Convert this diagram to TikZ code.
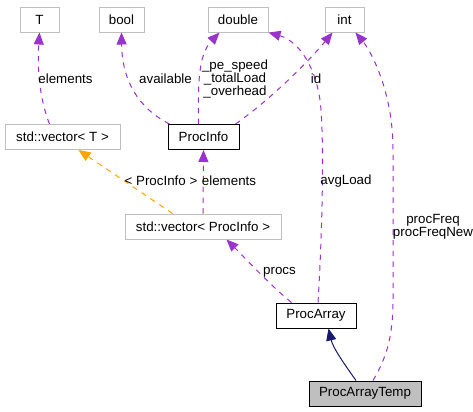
\documentclass[tikz,border=0pt]{standalone}
\usepackage{fontspec}
\setmainfont{Liberation Sans}
\usetikzlibrary{arrows.meta,calc}
\definecolor{DoxGray}{RGB}{191,191,191}
\definecolor{DoxPurple}{RGB}{154,50,205}
\definecolor{DoxOrange}{RGB}{255,165,0}
\definecolor{DoxNavy}{RGB}{25,25,112}
\tikzset{
  dox/box/.style={
    draw=black,
    line width=0.75pt,
    fill=white,
    align=center,
    text=black,
    minimum height=18.75pt,
    inner sep=0pt,
    font=\fontsize{10}{12}\selectfont
  },
  dox/extbox/.style={
    dox/box,
    draw=DoxGray
  },
  dox/current/.style={
    dox/box,
    fill=DoxGray
  },
  dox/member/.style={-{Triangle[length=9pt,width=7.5pt]}, line width=0.75pt, dash pattern=on 4pt off 4pt, draw=DoxPurple},
  dox/template/.style={-{Triangle[length=9pt,width=7.5pt]}, line width=0.75pt, dash pattern=on 4pt off 4pt, draw=DoxOrange},
  dox/inherit/.style={-{Triangle[length=9pt,width=7.5pt]}, line width=0.75pt, draw=DoxNavy},
  dox/label/.style={font=\fontsize{10}{10}\selectfont, text=black, align=center, inner sep=0pt}
}
\begin{document}
\begin{tikzpicture}[x=0.75pt,y=-0.75pt]
  \useasboundingbox[fill=white] (0,0) rectangle (473,411);
  \node[dox/extbox,minimum width=29.25pt] (t) at (39.5,19.5) {T};
  \node[dox/extbox,minimum width=33.75pt] (bool) at (121.5,19.5) {bool};
  \node[dox/extbox,minimum width=45pt] (double) at (238,19.5) {double};
  \node[dox/extbox,minimum width=29.25pt] (int) at (344.5,19.5) {int};
  \node[dox/extbox,minimum width=86.25pt] (vect) at (62.5,137) {std::vector< T >};
  \node[dox/box,minimum width=53.25pt] (procinfo) at (203.5,137) {ProcInfo};
  \node[dox/extbox,minimum width=117pt] (vecpi) at (203,226.5) {std::vector< ProcInfo >};
  \node[dox/box,minimum width=60pt] (procarray) at (316,315.5) {ProcArray};
  \node[dox/current,minimum width=84pt] (procarraytemp) at (365,393.5) {ProcArrayTemp};
  \draw[dox/member] ($(vect.north)+(-13,0)$) .. controls (40,100) and (37,70) .. (t.south);
  \draw[dox/member] ($(procinfo.north west)+(2,0)$) .. controls (138,108) and (122,80) .. (bool.south);
  \draw[dox/member] ($(procinfo.north)+(-5,0)$) .. controls (198,85) and (198,55) .. ($(double.south west)+(12,0)$);
  \draw[dox/member] ($(procinfo.north east)+(-4,0)$) .. controls (270,100) and (310,60) .. ($(int.south west)+(8,0)$);
  \draw[dox/member] ($(procarray.north)+(2,0)$) .. controls (323,220) and (324,130) .. (320,100) .. controls (314,60) and (295,40) .. (double.south east);
  \draw[dox/member] ($(procarraytemp.north)+(8,0)$) .. controls (385,360) and (393,340) .. (393,300) -- (393,150) .. controls (393,90) and (370,50) .. ($(int.south east)+(-9,0)$);
  \draw[dox/template] ($(vecpi.north west)+(48,0)$) -- ($(vect.south)+(16,0)$);
  \draw[dox/member] (vecpi.north) -- (procinfo.south);
  \draw[dox/member] ($(procarray.north west)+(16,0)$) .. controls (270,285) and (245,258) .. ($(vecpi.south east)+(-55,0)$);
  \draw[dox/inherit] ($(procarraytemp.north)+(-9,0)$) .. controls (345,365) and (333,348) .. ($(procarray.south east)+(-28,0)$);
  \node[dox/label] (lelements) at (65.5,79) {elements};
  \node[dox/label] (lavailable) at (165.5,79) {available};
  \node[dox/label] (lspeed) at (235,79) {\_pe\_speed\\\_totalLoad\\\_overhead};
  \node[dox/label] (lid) at (316,79) {id};
  \node[dox/label] (lavgload) at (346,181) {avgLoad};
  \node[dox/label] (lprocfreq) at (433,227) {procFreq\\procFreqNew};
  \node[dox/label] (ltemplate) at (161,181) {< ProcInfo >};
  \node[dox/label] (lelements2) at (229,181) {elements};
  \node[dox/label] (lprocs) at (279.5,272) {procs};
\end{tikzpicture}
\end{document}
